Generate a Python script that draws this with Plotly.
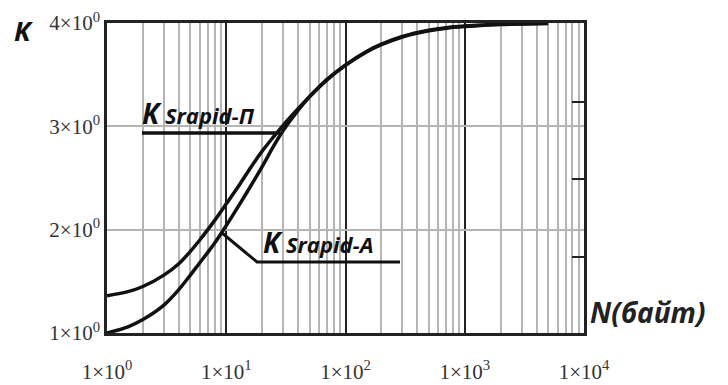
import plotly.graph_objects as go

# ---- data ----
N_values = [1, 1.5, 2, 3, 4, 5, 6, 7, 8, 10, 13, 16, 20, 25, 30, 40, 50, 70, 100,
            150, 200, 300, 500, 700, 1000, 2000, 5000]
K_P = [1.36, 1.40, 1.45, 1.56, 1.67, 1.79, 1.90, 2.00, 2.09, 2.25, 2.44, 2.60, 2.76,
       2.90, 3.01, 3.17, 3.29, 3.45, 3.59, 3.72, 3.79, 3.865, 3.925, 3.95, 3.965, 3.985, 3.995]
K_A = [1.00, 1.06, 1.13, 1.27, 1.42, 1.56, 1.68, 1.78, 1.87, 2.04, 2.25, 2.42, 2.61,
       2.81, 2.96, 3.155, 3.285, 3.455, 3.595, 3.725, 3.795, 3.87, 3.93, 3.955, 3.97, 3.988, 3.997]

x_tickvals = [1, 10, 100, 1000, 10000]
x_ticktext = ["1×10<sup>0</sup>", "1×10<sup>1</sup>", "1×10<sup>2</sup>",
              "1×10<sup>3</sup>", "1×10<sup>4</sup>"]
y_tickvals = [1, 2, 3, 4]
y_ticktext = ["1×10<sup>0</sup>", "2×10<sup>0</sup>", "3×10<sup>0</sup>", "4×10<sup>0</sup>"]
right_marks = [1.74, 2.49, 3.24]

W, H = 728, 385
L, R, T, B = 107, 144, 23, 52
pw, ph = W - L - R, H - T - B


def px(x):
    return (x - L) / pw


def py(y):
    return (H - B - y) / ph


fig = go.Figure()
fig.add_trace(go.Scatter(x=N_values, y=K_P, mode="lines", name="K Srapid-П",
                         line=dict(color="#111111", width=3.5, shape="spline", smoothing=0.8)))
fig.add_trace(go.Scatter(x=N_values, y=K_A, mode="lines", name="K Srapid-A",
                         line=dict(color="#111111", width=3.5, shape="spline", smoothing=0.8)))
fig.add_trace(go.Scatter(x=[], y=[], yaxis="y2", mode="lines", hoverinfo="skip",
                         showlegend=False))

tick_font = dict(family="Liberation Serif", size=21, color="#333333")

fig.update_layout(
    width=W, height=H,
    margin=dict(l=L, r=R, t=T, b=B, autoexpand=False),
    paper_bgcolor="white", plot_bgcolor="white",
    showlegend=False,
    xaxis=dict(type="log", range=[0, 4], tickvals=x_tickvals, ticktext=x_ticktext,
               tickfont=tick_font, showgrid=True, gridcolor="#222222", gridwidth=1.8,
               showline=True, linecolor="#222222", linewidth=2.5, mirror=True,
               ticks="", zeroline=False, ticklabelstandoff=18, automargin=False,
               minor=dict(dtick="D1", showgrid=True, gridcolor="#b5b5b5", gridwidth=1.5,
                          ticks="")),
    yaxis=dict(range=[1, 4], tickvals=y_tickvals, ticktext=y_ticktext,
               tickfont=tick_font, showgrid=True, gridcolor="#b5b5b5", gridwidth=1.5,
               showline=True, linecolor="#222222", linewidth=2.5, mirror=True,
               ticks="", zeroline=False, ticklabelstandoff=0, automargin=False),
    yaxis2=dict(range=[1, 4], overlaying="y", side="right", tickvals=right_marks,
                ticks="inside", ticklen=12, tickwidth=2, tickcolor="#222222",
                showticklabels=False, showgrid=False, zeroline=False, showline=False,
                automargin=False),
)

label_font = "Open Sans"
annotations = [
    dict(x=px(24), y=py(31), xref="paper", yref="paper", xanchor="center", yanchor="middle",
         text="<b><i>K</i></b>",
         showarrow=False, font=dict(family=label_font, size=27, color="#111111")),
    dict(x=px(647), y=py(312), xref="paper", yref="paper", xanchor="center", yanchor="middle",
         text="<b><i>N(байт)</i></b>",
         showarrow=False, font=dict(family=label_font, size=28, color="#222222")),
    dict(x=px(140), y=py(113), xref="paper", yref="paper", xanchor="left", yanchor="middle",
         text="<b><i><span style='font-size:28px'>K</span> Srapid-П</i></b>",
         showarrow=False, font=dict(family=label_font, size=22, color="#111111")),
    dict(x=px(261), y=py(242), xref="paper", yref="paper", xanchor="left", yanchor="middle",
         text="<b><i><span style='font-size:28px'>K</span> Srapid-A</i></b>",
         showarrow=False, font=dict(family=label_font, size=22, color="#111111")),
]
fig.update_layout(annotations=annotations)

shapes = [
    dict(type="line", xref="paper", yref="paper", x0=px(142), y0=py(133), x1=px(280), y1=py(133),
         line=dict(color="#111111", width=3.5)),
    dict(type="path", xref="paper", yref="paper",
         path=f"M {px(222)} {py(233)} L {px(257)} {py(262)} L {px(400)} {py(262)}",
         line=dict(color="#111111", width=3)),
]
fig.update_layout(shapes=shapes)

fig.write_html("out.html")
